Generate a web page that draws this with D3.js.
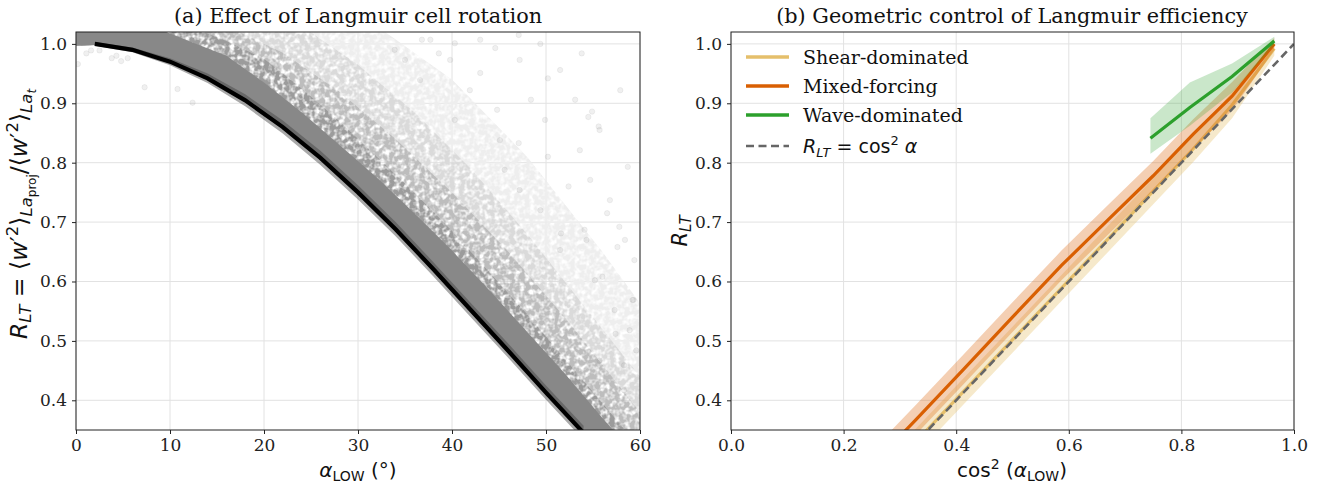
<!DOCTYPE html>
<meta charset="utf-8">
<script src="https://d3js.org/d3.v7.min.js"></script>
<style>
  body { margin: 0; background: #fff; }
  .tick text { font-family: "DejaVu Serif"; font-size: 17px; fill: #222; }
  .tick line { stroke: #222; }
  .domain { display: none; }
</style>
<div id="chart"></div>
<script>

// ---------- panel (a): values ----------
// bin mean of R_LT vs alpha_LOW and its spread
var meanAlpha  = [2, 6, 10, 14, 18, 22, 26, 30, 34, 38, 42, 46, 50, 54];
var meanR      = [1.000, 0.990, 0.970, 0.942, 0.905, 0.860, 0.808, 0.750, 0.688, 0.621, 0.552, 0.483, 0.413, 0.345];
var meanSpread = [0.003, 0.004, 0.006, 0.008, 0.010, 0.011, 0.012, 0.012, 0.012, 0.012, 0.012, 0.012, 0.012, 0.012];

// lower edge of the point cloud
var cloudLowAlpha = [0, 2, 6, 10, 14, 18, 22, 26, 30, 34, 38, 42, 46, 50, 54, 58, 64];
var cloudLowR     = [0.997, 0.998, 0.988, 0.968, 0.940, 0.903, 0.858, 0.806, 0.748, 0.686, 0.619, 0.550, 0.481, 0.411, 0.343, 0.28, 0.20];

// upper edges of the cloud at decreasing point density
var denseAlpha = [8, 12, 16, 20, 24, 28, 32, 36, 40, 44, 48, 52, 56, 60];
var denseR     = [1.03, 1.005, 0.980, 0.935, 0.885, 0.830, 0.775, 0.715, 0.652, 0.585, 0.515, 0.445, 0.370, 0.300];
var nearAlpha  = [12, 16, 20, 24, 28, 32, 36, 40, 44, 48, 52, 56, 60, 64];
var nearR      = [1.03, 1.005, 0.975, 0.925, 0.870, 0.810, 0.750, 0.685, 0.615, 0.545, 0.470, 0.395, 0.320, 0.250];
var midAlpha   = [16, 22, 28, 34, 40, 46, 52, 58, 64];
var midR       = [1.03, 0.985, 0.920, 0.840, 0.750, 0.650, 0.540, 0.420, 0.300];
var lightAlpha = [24, 30, 36, 42, 48, 54, 60, 64];
var lightR     = [1.03, 0.965, 0.885, 0.790, 0.680, 0.560, 0.440, 0.360];
var faintAlpha = [32, 40, 48, 56, 62];
var faintR     = [1.03, 0.940, 0.810, 0.650, 0.520];

// scattered single points away from the cloud
var strayAlpha = [0.2, 1.1, 1.6, 2.5, 3.8, 4.3, 4.8, 5.5, 7.3, 10.8, 12.4,
                  36.8, 38.6, 44.6, 47.1, 50.2, 53.8, 54.9, 54.5, 55.6, 58.7, 57.8, 57.6, 59.4,
                  58.3, 59.2, 56.0, 56.5, 48.4, 44.8, 50.2, 52.4, 43.0, 40.3, 47.1, 51.6, 54.3,
                  57.4, 59.6, 58.3, 35.0,
                  49.4, 51.5, 53.1, 55.7, 57.9, 54.7, 56.8, 58.4, 59.3, 58.9, 57.3, 55.7, 51.5,
                  47.2, 45.1, 41.9, 39.8, 37.7, 43.0, 47.2, 49.9, 53.6, 54.1, 55.2, 49.4, 45.6,
                  40.3, 36.6, 33.9];
var strayR     = [0.966, 0.984, 0.989, 0.989, 0.976, 0.980, 0.971, 0.976, 0.927, 0.924, 0.901,
                  1.007, 0.984, 0.993, 1.015, 0.942, 0.984, 0.886, 0.877, 0.861, 0.793, 0.692, 0.658, 0.636,
                  0.459, 0.569, 0.608, 0.715, 0.906, 0.889, 0.810, 0.760, 0.951, 1.001, 0.833, 0.681, 0.670,
                  0.512, 0.484, 0.417, 0.973,
                  1.000, 0.956, 0.906, 0.855, 0.922, 0.771, 0.737, 0.670, 0.569, 0.518, 0.552, 0.467, 0.653,
                  0.754, 0.838, 0.922, 0.973, 1.007, 1.007, 0.973, 0.872, 0.821, 0.687, 0.602, 0.720, 0.788,
                  0.872, 0.939, 0.990];

// ---------- panel (b): values ----------
var cos2X     = [0.25, 0.329, 0.413, 0.5, 0.587, 0.671, 0.75, 0.821, 0.89, 0.965];
var shearR    = [0.252, 0.331, 0.415, 0.502, 0.589, 0.673, 0.752, 0.823, 0.897, 0.992];
var shearLo   = [0.230, 0.309, 0.393, 0.480, 0.567, 0.651, 0.730, 0.801, 0.875, 0.980];
var shearHi   = [0.274, 0.353, 0.437, 0.524, 0.611, 0.695, 0.774, 0.845, 0.919, 1.004];
var mixedR    = [0.290, 0.368, 0.452, 0.540, 0.627, 0.705, 0.778, 0.848, 0.912, 1.000];
var mixedLo   = [0.265, 0.343, 0.427, 0.515, 0.602, 0.680, 0.753, 0.823, 0.888, 0.990];
var mixedHi   = [0.315, 0.393, 0.477, 0.565, 0.652, 0.730, 0.803, 0.873, 0.936, 1.010];
var waveX     = [0.745, 0.815, 0.89, 0.965];
var waveR     = [0.841, 0.893, 0.945, 1.005];
var waveLo    = [0.815, 0.862, 0.918, 0.998];
var waveHi    = [0.875, 0.935, 0.967, 1.012];
var refX      = [0, 1];

var seriesNames  = ["Shear-dominated", "Mixed-forcing", "Wave-dominated"];
var seriesColors = ["#e5bf6b", "#d95f02", "#2ca02c"];

var yTicks  = [0.4, 0.5, 0.6, 0.7, 0.8, 0.9, 1.0];
var xTicksA = [0, 10, 20, 30, 40, 50, 60];
var xTicksB = [0, 0.2, 0.4, 0.6, 0.8, 1.0];

// ---------- layout ----------
var svg = d3.select("#chart").append("svg")
    .attr("width", 1327).attr("height", 484);

var plotTop = 32, plotBottom = 430;
var xA = d3.scaleLinear().domain([0, 60]).range([76, 640]);
var xB = d3.scaleLinear().domain([0, 1]).range([731, 1294]);
var yA = d3.scaleLinear().domain([0.35, 1.02]).range([plotBottom, plotTop]);
var yB = yA.copy();

function zip(xs, ys) { return xs.map(function(x, i) { return [x, ys[i]]; }); }

// mottled texture for the thin part of the point cloud
var defs = svg.append("defs");
var speckle = defs.append("filter").attr("id", "speckle")
  .attr("filterUnits", "userSpaceOnUse")
  .attr("x", 76).attr("y", plotTop).attr("width", 564).attr("height", plotBottom - plotTop);
speckle.append("feTurbulence").attr("type", "fractalNoise").attr("baseFrequency", 0.2)
  .attr("numOctaves", 2).attr("seed", 4).attr("result", "noise");
speckle.append("feColorMatrix").attr("in", "noise").attr("type", "matrix")
  .attr("values", "0 0 0 0 0  0 0 0 0 0  0 0 0 0 0  3.0 0 0 0 -0.75").attr("result", "mask");
speckle.append("feComposite").attr("in", "SourceGraphic").attr("in2", "mask").attr("operator", "in");

function frame(x, y, xticks, id) {
  var g = svg.append("g");
  g.selectAll(".gx").data(xticks).enter().append("line")
    .attr("x1", d => x(d)).attr("x2", d => x(d))
    .attr("y1", plotTop).attr("y2", plotBottom)
    .attr("stroke", "#e2e2e2").attr("stroke-width", 1);
  g.selectAll(".gy").data(yTicks).enter().append("line")
    .attr("x1", x.range()[0]).attr("x2", x.range()[1])
    .attr("y1", d => y(d)).attr("y2", d => y(d))
    .attr("stroke", "#e2e2e2").attr("stroke-width", 1);
  defs.append("clipPath").attr("id", id).append("rect")
    .attr("x", x.range()[0]).attr("y", plotTop)
    .attr("width", x.range()[1] - x.range()[0]).attr("height", plotBottom - plotTop);
  return svg.append("g").attr("clip-path", "url(#" + id + ")");
}

function axes(x, y, xticks, fmt) {
  svg.append("g").attr("transform", "translate(0," + plotBottom + ")")
    .call(d3.axisBottom(x).tickValues(xticks).tickFormat(fmt).tickSize(4).tickPadding(5));
  svg.append("g").attr("transform", "translate(" + x.range()[0] + ",0)")
    .call(d3.axisLeft(y).tickValues(yTicks).tickFormat(d3.format(".1f")).tickSize(4).tickPadding(5));
  svg.append("rect")
    .attr("x", x.range()[0]).attr("y", plotTop)
    .attr("width", x.range()[1] - x.range()[0]).attr("height", plotBottom - plotTop)
    .attr("fill", "none").attr("stroke", "#222").attr("stroke-width", 1);
}

// math-ish text built from pieces: [text, size, shift(px, + is down), italic?, font]
function mathText(g, parts) {
  var t = g.append("text");
  var cur = 0;
  parts.forEach(function(p) {
    t.append("tspan")
      .attr("dy", p[2] - cur)
      .attr("font-size", p[1])
      .attr("font-style", p[3] ? "italic" : "normal")
      .attr("font-family", p[4] || "DejaVu Sans")
      .text(p[0]);
    cur = p[2];
  });
  return t;
}

// ---------- panel (a) ----------
var pa = frame(xA, yA, xTicksA, "clipA");

var lowPts = zip(cloudLowAlpha, cloudLowR);
function cloudPoly(ea, er) {
  var pts = [[-2, 1.06]].concat(lowPts).concat(zip(ea, er).reverse()).concat([[ea[0] - 10, 1.06]]);
  return pts.map(p => [xA(p[0]), yA(p[1])]);
}
var halo = pa.append("g").attr("filter", "url(#speckle)");
[[faintAlpha, faintR, "#eeeeee"],
 [lightAlpha, lightR, "#dadada"],
 [midAlpha,   midR,   "#bdbdbd"],
 [nearAlpha,  nearR,  "#9c9c9c"]].forEach(function(l) {
  halo.append("path").attr("d", d3.line()(cloudPoly(l[0], l[1])) + "Z").attr("fill", l[2]);
});
pa.append("path").attr("d", d3.line()(cloudPoly(denseAlpha, denseR)) + "Z").attr("fill", "#888888");

pa.selectAll(".stray").data(zip(strayAlpha, strayR)).enter().append("circle")
  .attr("cx", d => xA(d[0])).attr("cy", d => yA(d[1])).attr("r", 2.7)
  .attr("fill", "#808080").attr("fill-opacity", 0.12)
  .attr("stroke", "#808080").attr("stroke-opacity", 0.1);

var bandA = meanAlpha.map((a, i) => ({a: a, lo: meanR[i] - meanSpread[i], hi: meanR[i] + meanSpread[i]}));
pa.append("path").datum(bandA)
  .attr("d", d3.area().x(d => xA(d.a)).y0(d => yA(d.lo)).y1(d => yA(d.hi)))
  .attr("fill", "#404040").attr("fill-opacity", 0.45);
pa.append("path").datum(zip(meanAlpha, meanR))
  .attr("d", d3.line().x(d => xA(d[0])).y(d => yA(d[1])))
  .attr("fill", "none").attr("stroke", "#000").attr("stroke-width", 4.2);

axes(xA, yA, xTicksA, d3.format("d"));

svg.append("text").attr("x", 358).attr("y", 23).attr("text-anchor", "middle")
  .attr("font-family", "DejaVu Serif").attr("font-size", 20.8).attr("fill", "#111")
  .text("(a) Effect of Langmuir cell rotation");

var xlA = svg.append("g").attr("transform", "translate(358,477)");
mathText(xlA, [["α", 20, 0, true], ["LOW", 14, 4, false], [" (°)", 20, 0, false]])
  .attr("text-anchor", "middle").attr("fill", "#111");

var ylA = svg.append("g").attr("transform", "translate(27,214) rotate(-90)");
mathText(ylA, [["R", 23.5, 0, true], ["LT", 16.5, 4, true], [" = ⟨", 23.5, 0, false], ["w", 23.5, 0, true],
               ["′", 23.5, 0, false], ["2", 16.5, -9, false], ["⟩", 23.5, 0, false],
               ["La", 16.5, 5, true], ["proj", 12, 9, false],
               ["/⟨", 23.5, 0, false], ["w", 23.5, 0, true], ["′", 23.5, 0, false], ["2", 16.5, -9, false],
               ["⟩", 23.5, 0, false], ["La", 16.5, 5, true], ["t", 12, 9, true]])
  .attr("text-anchor", "middle").attr("fill", "#111");

// ---------- panel (b) ----------
var pb = frame(xB, yB, xTicksB, "clipB");

var area = d3.area().x(d => xB(d[0])).y0(d => yB(d[1])).y1(d => yB(d[2]));
var line = d3.line().x(d => xB(d[0])).y(d => yB(d[1]));
function tri(xs, lo, hi) { return xs.map((x, i) => [x, lo[i], hi[i]]); }

var groups = [
  [cos2X, shearR, shearLo, shearHi, 0.35],
  [cos2X, mixedR, mixedLo, mixedHi, 0.3],
  [waveX, waveR, waveLo, waveHi, 0.25]
];
groups.forEach(function(s, i) {
  pb.append("path").datum(tri(s[0], s[2], s[3])).attr("d", area)
    .attr("fill", seriesColors[i]).attr("fill-opacity", s[4]);
  pb.append("path").datum(zip(s[0], s[1])).attr("d", line)
    .attr("fill", "none").attr("stroke", seriesColors[i]).attr("stroke-width", 3.2);
});
pb.append("path").datum(zip(refX, refX)).attr("d", line)
  .attr("fill", "none").attr("stroke", "#666").attr("stroke-width", 2.6)
  .attr("stroke-dasharray", "8,4.5");

axes(xB, yB, xTicksB, d3.format(".1f"));

svg.append("text").attr("x", 1012).attr("y", 23).attr("text-anchor", "middle")
  .attr("font-family", "DejaVu Serif").attr("font-size", 20.8).attr("fill", "#111")
  .text("(b) Geometric control of Langmuir efficiency");

var xlB = svg.append("g").attr("transform", "translate(1012,477)");
mathText(xlB, [["cos", 20, 0, false], ["2", 14, -8, false], [" (", 20, 0, false], ["α", 20, 0, true],
               ["LOW", 14, 4, false], [")", 20, 0, false]])
  .attr("text-anchor", "middle").attr("fill", "#111");

var ylB = svg.append("g").attr("transform", "translate(687,231) rotate(-90)");
mathText(ylB, [["R", 21, 0, true], ["LT", 15, 4, true]]).attr("text-anchor", "middle").attr("fill", "#111");

// legend
var leg = svg.append("g");
var rowY = [57, 86, 115, 146];
seriesNames.forEach(function(n, i) {
  leg.append("line").attr("x1", 746).attr("x2", 789).attr("y1", rowY[i]).attr("y2", rowY[i])
    .attr("stroke", seriesColors[i]).attr("stroke-width", 3.6);
  leg.append("text").attr("x", 803).attr("y", rowY[i] + 6.5)
    .attr("font-family", "DejaVu Serif").attr("font-size", 19).attr("fill", "#111").text(n);
});
leg.append("line").attr("x1", 746).attr("x2", 789).attr("y1", rowY[3]).attr("y2", rowY[3])
  .attr("stroke", "#666").attr("stroke-width", 2.6).attr("stroke-dasharray", "8,4.5");
var lm = leg.append("g").attr("transform", "translate(803," + (rowY[3] + 7) + ")");
mathText(lm, [["R", 19, 0, true], ["LT", 13, 4, true], [" = cos", 19, 0, false], ["2", 13, -8, false],
              [" α", 19, 0, true]]).attr("fill", "#111");

</script>
